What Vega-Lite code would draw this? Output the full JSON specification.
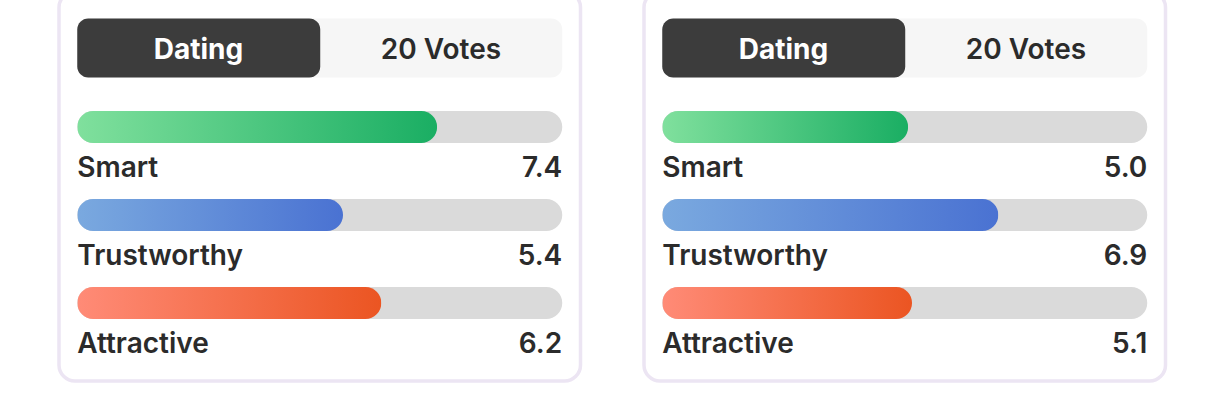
{
  "$schema": "https://vega.github.io/schema/vega-lite/v6.json",
  "background": "white",
  "padding": {"left": 57, "top": -10.5, "right": 0, "bottom": 0},
  "config": {
    "view": {"stroke": "#ece5f3", "strokeWidth": 3.5, "cornerRadius": 16, "fill": "white"},
    "font": "Inter"
  },
  "data": {
    "values": [
      {"card": "A", "metric": "header", "category": "Dating", "votes": "20 Votes"},
      {"card": "A", "metric": "Smart", "value": 7.42, "shown": "7.4"},
      {"card": "A", "metric": "Trustworthy", "value": 5.48, "shown": "5.4"},
      {"card": "A", "metric": "Attractive", "value": 6.27, "shown": "6.2"},
      {"card": "B", "metric": "header", "category": "Dating", "votes": "20 Votes"},
      {"card": "B", "metric": "Smart", "value": 5.07, "shown": "5.0"},
      {"card": "B", "metric": "Trustworthy", "value": 6.93, "shown": "6.9"},
      {"card": "B", "metric": "Attractive", "value": 5.15, "shown": "5.1"}
    ]
  },
  "spacing": 59,
  "hconcat": [
    {
      "width": 521.5,
      "height": 389.5,
      "transform": [{"filter": "datum.card === 'A'"}],
      "encoding": {
        "y": {
          "field": "metric",
          "type": "nominal",
          "axis": null,
          "scale": {"domain": ["header", "Smart", "Trustworthy", "Attractive"], "paddingInner": 0, "paddingOuter": 0.21307, "align": 0.6133}
        }
      },
      "layer": [
        {
          "transform": [{"filter": "datum.metric === 'header'"}],
          "mark": {"type": "bar", "color": "#f6f6f6", "cornerRadius": 11, "height": 59, "yOffset": -10.5},
          "encoding": {"x": {"datum": 10, "type": "quantitative", "axis": null, "scale": {"domain": [-0.3763, 10.3763], "nice": false, "zero": false}}}
        },
        {
          "transform": [{"filter": "datum.metric === 'header'"}],
          "mark": {"type": "bar", "color": "#3c3c3c", "cornerRadius": 11, "height": 59, "yOffset": -10.5},
          "encoding": {"x": {"datum": 5.01, "type": "quantitative"}}
        },
        {
          "transform": [{"filter": "datum.metric === 'header'"}],
          "mark": {"type": "text", "align": "center", "baseline": "alphabetic", "dy": 1, "fontSize": 28, "fontWeight": 700, "color": "#ffffff"},
          "encoding": {"x": {"datum": 2.5, "type": "quantitative"}, "text": {"field": "category"}}
        },
        {
          "transform": [{"filter": "datum.metric === 'header'"}],
          "mark": {"type": "text", "align": "center", "baseline": "alphabetic", "dy": 1, "fontSize": 28, "fontWeight": 600, "color": "#2b2b2b"},
          "encoding": {"x": {"datum": 7.5, "type": "quantitative"}, "text": {"field": "votes"}}
        },
        {
          "transform": [{"filter": "datum.metric !== 'header'"}],
          "mark": {"type": "bar", "color": "#dadada", "cornerRadius": 16, "height": 32, "yOffset": -19.5},
          "encoding": {"x": {"datum": 10, "type": "quantitative"}}
        },
        {
          "transform": [{"filter": "datum.metric === 'Smart'"}],
          "mark": {"type": "bar", "cornerRadius": 16, "height": 32, "yOffset": -19.5,
            "color": {"gradient": "linear", "x1": 0, "y1": 0, "x2": 1, "y2": 0, "stops": [{"offset": 0, "color": "#80e09d"}, {"offset": 1, "color": "#1aae63"}]}},
          "encoding": {"x": {"field": "value", "type": "quantitative"}}
        },
        {
          "transform": [{"filter": "datum.metric === 'Trustworthy'"}],
          "mark": {"type": "bar", "cornerRadius": 16, "height": 32, "yOffset": -19.5,
            "color": {"gradient": "linear", "x1": 0, "y1": 0, "x2": 1, "y2": 0, "stops": [{"offset": 0, "color": "#7aa9df"}, {"offset": 1, "color": "#4a72d2"}]}},
          "encoding": {"x": {"field": "value", "type": "quantitative"}}
        },
        {
          "transform": [{"filter": "datum.metric === 'Attractive'"}],
          "mark": {"type": "bar", "cornerRadius": 16, "height": 32, "yOffset": -19.5,
            "color": {"gradient": "linear", "x1": 0, "y1": 0, "x2": 1, "y2": 0, "stops": [{"offset": 0, "color": "#ff8b77"}, {"offset": 1, "color": "#eb5522"}]}},
          "encoding": {"x": {"field": "value", "type": "quantitative"}}
        },
        {
          "transform": [{"filter": "datum.metric !== 'header'"}],
          "mark": {"type": "text", "align": "left", "baseline": "alphabetic", "dy": 30.5, "fontSize": 28, "fontWeight": 600, "color": "#2b2b2b"},
          "encoding": {"x": {"datum": 0, "type": "quantitative"}, "text": {"field": "metric"}}
        },
        {
          "transform": [{"filter": "datum.metric !== 'header'"}],
          "mark": {"type": "text", "align": "right", "baseline": "alphabetic", "dy": 30.5, "fontSize": 28, "fontWeight": 600, "color": "#2b2b2b"},
          "encoding": {"x": {"datum": 10, "type": "quantitative"}, "text": {"field": "shown"}}
        }
      ]
    },
    {
      "width": 521.5,
      "height": 389.5,
      "transform": [{"filter": "datum.card === 'B'"}],
      "encoding": {
        "y": {
          "field": "metric",
          "type": "nominal",
          "axis": null,
          "scale": {"domain": ["header", "Smart", "Trustworthy", "Attractive"], "paddingInner": 0, "paddingOuter": 0.21307, "align": 0.6133}
        }
      },
      "layer": [
        {
          "transform": [{"filter": "datum.metric === 'header'"}],
          "mark": {"type": "bar", "color": "#f6f6f6", "cornerRadius": 11, "height": 59, "yOffset": -10.5},
          "encoding": {"x": {"datum": 10, "type": "quantitative", "axis": null, "scale": {"domain": [-0.3763, 10.3763], "nice": false, "zero": false}}}
        },
        {
          "transform": [{"filter": "datum.metric === 'header'"}],
          "mark": {"type": "bar", "color": "#3c3c3c", "cornerRadius": 11, "height": 59, "yOffset": -10.5},
          "encoding": {"x": {"datum": 5.01, "type": "quantitative"}}
        },
        {
          "transform": [{"filter": "datum.metric === 'header'"}],
          "mark": {"type": "text", "align": "center", "baseline": "alphabetic", "dy": 1, "fontSize": 28, "fontWeight": 700, "color": "#ffffff"},
          "encoding": {"x": {"datum": 2.5, "type": "quantitative"}, "text": {"field": "category"}}
        },
        {
          "transform": [{"filter": "datum.metric === 'header'"}],
          "mark": {"type": "text", "align": "center", "baseline": "alphabetic", "dy": 1, "fontSize": 28, "fontWeight": 600, "color": "#2b2b2b"},
          "encoding": {"x": {"datum": 7.5, "type": "quantitative"}, "text": {"field": "votes"}}
        },
        {
          "transform": [{"filter": "datum.metric !== 'header'"}],
          "mark": {"type": "bar", "color": "#dadada", "cornerRadius": 16, "height": 32, "yOffset": -19.5},
          "encoding": {"x": {"datum": 10, "type": "quantitative"}}
        },
        {
          "transform": [{"filter": "datum.metric === 'Smart'"}],
          "mark": {"type": "bar", "cornerRadius": 16, "height": 32, "yOffset": -19.5,
            "color": {"gradient": "linear", "x1": 0, "y1": 0, "x2": 1, "y2": 0, "stops": [{"offset": 0, "color": "#80e09d"}, {"offset": 1, "color": "#1aae63"}]}},
          "encoding": {"x": {"field": "value", "type": "quantitative"}}
        },
        {
          "transform": [{"filter": "datum.metric === 'Trustworthy'"}],
          "mark": {"type": "bar", "cornerRadius": 16, "height": 32, "yOffset": -19.5,
            "color": {"gradient": "linear", "x1": 0, "y1": 0, "x2": 1, "y2": 0, "stops": [{"offset": 0, "color": "#7aa9df"}, {"offset": 1, "color": "#4a72d2"}]}},
          "encoding": {"x": {"field": "value", "type": "quantitative"}}
        },
        {
          "transform": [{"filter": "datum.metric === 'Attractive'"}],
          "mark": {"type": "bar", "cornerRadius": 16, "height": 32, "yOffset": -19.5,
            "color": {"gradient": "linear", "x1": 0, "y1": 0, "x2": 1, "y2": 0, "stops": [{"offset": 0, "color": "#ff8b77"}, {"offset": 1, "color": "#eb5522"}]}},
          "encoding": {"x": {"field": "value", "type": "quantitative"}}
        },
        {
          "transform": [{"filter": "datum.metric !== 'header'"}],
          "mark": {"type": "text", "align": "left", "baseline": "alphabetic", "dy": 30.5, "fontSize": 28, "fontWeight": 600, "color": "#2b2b2b"},
          "encoding": {"x": {"datum": 0, "type": "quantitative"}, "text": {"field": "metric"}}
        },
        {
          "transform": [{"filter": "datum.metric !== 'header'"}],
          "mark": {"type": "text", "align": "right", "baseline": "alphabetic", "dy": 30.5, "fontSize": 28, "fontWeight": 600, "color": "#2b2b2b"},
          "encoding": {"x": {"datum": 10, "type": "quantitative"}, "text": {"field": "shown"}}
        }
      ]
    }
  ]
}
